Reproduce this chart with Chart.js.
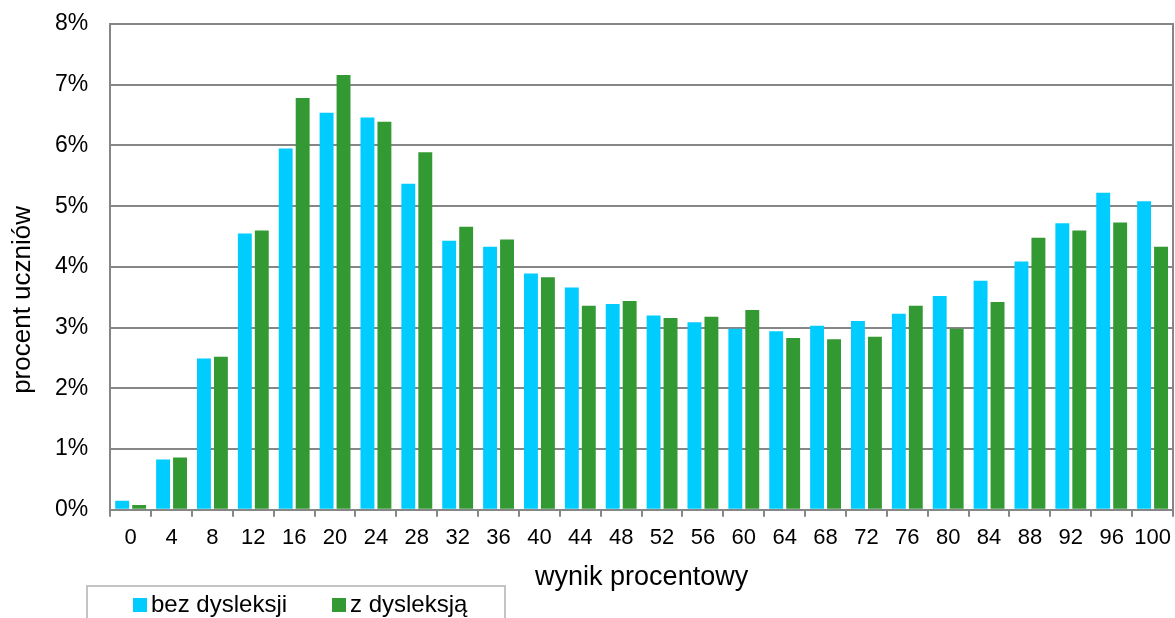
<!DOCTYPE html>
<html>
<head>
<meta charset="utf-8">
<script src="https://cdn.jsdelivr.net/npm/chart.js@4/dist/chart.umd.min.js"></script>
<style>
  html, body { margin: 0; padding: 0; background: #fff; overflow: hidden; }
  canvas { display: block; }
</style>
</head>
<body>
<canvas id="c" width="1175" height="618"></canvas>
<script>
// ---- data ----
const categories = ['0','4','8','12','16','20','24','28','32','36','40','44','48','52','56','60','64','68','72','76','80','84','88','92','96','100'];
const bezDysleksji = [0.15, 0.83, 2.49, 4.55, 5.95, 6.54, 6.46, 5.37, 4.43, 4.33, 3.89, 3.66, 3.39, 3.20, 3.09, 2.98, 2.94, 3.03, 3.11, 3.23, 3.52, 3.77, 4.09, 4.72, 5.22, 5.08];
const zDysleksja   = [0.08, 0.86, 2.52, 4.60, 6.78, 7.16, 6.39, 5.89, 4.66, 4.45, 3.83, 3.36, 3.44, 3.16, 3.18, 3.29, 2.83, 2.81, 2.85, 3.36, 2.98, 3.42, 4.48, 4.60, 4.73, 4.33];
const seriesNames = ['bez dysleksji', 'z dysleksją'];
const yTicks = [0, 1, 2, 3, 4, 5, 6, 7, 8];
const xTitle = 'wynik procentowy';
const yTitle = 'procent uczniów';

const FONT = "'Liberation Sans', Arial, sans-serif";
const GRID = '#868686';

const rightBorder = {
  id: 'rightBorder',
  afterDraw(chart) {
    const {ctx, chartArea} = chart;
    ctx.save();
    ctx.strokeStyle = GRID;
    ctx.lineWidth = 2;
    ctx.beginPath();
    ctx.moveTo(chartArea.right, chartArea.top - 1);
    ctx.lineTo(chartArea.right, chartArea.bottom);
    ctx.stroke();
    ctx.restore();
  }
};

// y-axis title (placed lower than centre, as in the original)
const yAxisTitle = {
  id: 'yAxisTitle',
  afterDraw(chart, args, opts) {
    const {ctx, chartArea} = chart;
    ctx.save();
    ctx.translate(opts.x, (chartArea.top + chartArea.bottom) / 2 + opts.shift);
    ctx.rotate(-Math.PI / 2);
    ctx.font = opts.fontSize + 'px ' + FONT;
    ctx.fillStyle = '#000';
    ctx.textAlign = 'center';
    ctx.textBaseline = 'middle';
    ctx.fillText(opts.text, 0, 0);
    ctx.restore();
  }
};

const boxLegend = {
  id: 'boxLegend',
  afterDraw(chart, args, opts) {
    const {ctx} = chart;
    ctx.save();
    ctx.strokeStyle = '#c4c4c4';
    ctx.lineWidth = 2;
    ctx.strokeRect(opts.left, opts.top, opts.width, 80);
    ctx.font = opts.fontSize + 'px ' + FONT;
    ctx.textBaseline = 'alphabetic';
    chart.data.datasets.forEach((ds, i) => {
      const x = opts.itemX[i];
      ctx.fillStyle = ds.backgroundColor;
      ctx.fillRect(x, opts.boxY, opts.boxSize, opts.boxSize);
      ctx.fillStyle = '#000';
      ctx.fillText(ds.label, x + opts.boxSize + 4, opts.textY);
    });
    ctx.restore();
  }
};

new Chart(document.getElementById('c'), {
  type: 'bar',
  data: {
    labels: categories,
    datasets: [
      { label: seriesNames[0], data: bezDysleksji, backgroundColor: '#00CCFF', categoryPercentage: 0.83, barPercentage: 0.82 },
      { label: seriesNames[1], data: zDysleksja, backgroundColor: '#339933', categoryPercentage: 0.83, barPercentage: 0.82 }
    ]
  },
  options: {
    responsive: false,
    animation: false,
    layout: { padding: { top: 24, right: 2, bottom: 24, left: 55 } },
    plugins: {
      legend: { display: false },
      tooltip: { enabled: false },
      yAxisTitle: { text: yTitle, x: 22.5, shift: 33, fontSize: 26 },
      boxLegend: { left: 87, top: 586, width: 418, itemX: [133, 332], boxY: 598, boxSize: 14, textY: 612, fontSize: 24 }
    },
    scales: {
      x: {
        grid: { display: true, drawOnChartArea: false, drawTicks: true, tickLength: 7, color: GRID, lineWidth: 2, offset: true },
        border: { display: true, color: GRID, width: 2 },
        ticks: { color: '#000', padding: 0, font: { family: FONT, size: 22, lineHeight: 1.9 }, maxRotation: 0, autoSkip: false },
        title: { display: true, text: xTitle, color: '#000', font: { family: FONT, size: 27 }, padding: { top: 3, bottom: 0 } }
      },
      y: {
        min: 0, max: 8,
        afterBuildTicks(scale) { scale.ticks = yTicks.map(v => ({ value: v })); },
        grid: { color: GRID, lineWidth: 2, drawTicks: true, tickLength: 22, tickColor: 'rgba(0,0,0,0)' },
        border: { display: true, color: GRID, width: 2 },
        ticks: { color: '#000', padding: 0, font: { family: FONT, size: 23 }, callback: v => v + '%' },
        title: { display: false }
      }
    }
  },
  plugins: [rightBorder, yAxisTitle, boxLegend]
});
</script>
</body>
</html>
